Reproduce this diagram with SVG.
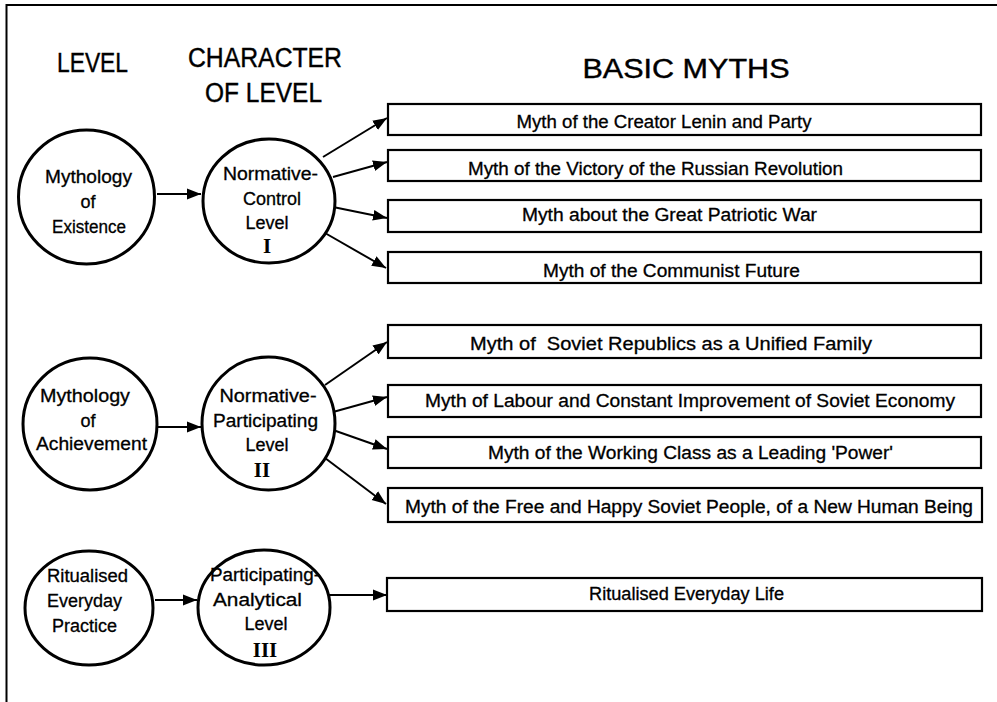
<svg xmlns="http://www.w3.org/2000/svg" width="997" height="702" viewBox="0 0 997 702">
  <defs>
    <marker id="arrow" markerUnits="userSpaceOnUse" markerWidth="16" markerHeight="12" refX="14" refY="6" orient="auto">
      <path d="M0,0.6 L14,6 L0,11.4 Z" fill="#000"/>
    </marker>
    <style>
      .frame { stroke: #000; stroke-width: 2; fill: none; }
      .lvl { fill: #fff; stroke: #000; stroke-width: 3; }
      .box { fill: #fff; stroke: #000; stroke-width: 2.2; }
      .hdr { font-family: "Liberation Sans", Arial, sans-serif; font-size: 27px; fill: #000; stroke: #000; stroke-width: 0.4; text-anchor: middle; }
      .ct { font-family: "Liberation Sans", Arial, sans-serif; font-size: 18px; fill: #000; stroke: #000; stroke-width: 0.3; text-anchor: middle; }
      .bt { font-family: "Liberation Sans", Arial, sans-serif; font-size: 18px; fill: #000; stroke: #000; stroke-width: 0.3; text-anchor: middle; }
      .rn { font-family: "Liberation Serif", "Times New Roman", serif; font-size: 21px; font-weight: bold; fill: #000; text-anchor: middle; }
      .conn line { stroke: #000; stroke-width: 2; marker-end: url(#arrow); }
    </style>
  </defs>
  <rect width="997" height="702" fill="#fff"/>

  <!-- page frame -->
  <line class="frame" x1="6" y1="5" x2="997" y2="5"/>
  <line class="frame" x1="6.5" y1="4" x2="6.5" y2="702"/>

  <!-- column headings -->
  <g id="headings">
    <text class="hdr" x="92.5" y="72" textLength="71" lengthAdjust="spacingAndGlyphs">LEVEL</text>
    <text class="hdr" x="265" y="67" textLength="154" lengthAdjust="spacingAndGlyphs">CHARACTER</text>
    <text class="hdr" x="263.5" y="102" textLength="117" lengthAdjust="spacingAndGlyphs">OF LEVEL</text>
    <text class="hdr" x="686" y="78" textLength="207" lengthAdjust="spacingAndGlyphs">BASIC MYTHS</text>
  </g>

  <!-- connectors -->
  <g id="connectors" class="conn">
    <line x1="157" y1="194" x2="201" y2="194"/>
    <line x1="158" y1="427" x2="201" y2="427"/>
    <line x1="155" y1="600" x2="197" y2="600"/>

    <line x1="323" y1="157" x2="387" y2="118"/>
    <line x1="333" y1="177" x2="387" y2="162"/>
    <line x1="333" y1="207" x2="387" y2="218"/>
    <line x1="325" y1="233" x2="386" y2="268"/>

    <line x1="325" y1="385" x2="387" y2="342"/>
    <line x1="333" y1="412" x2="387" y2="397"/>
    <line x1="333" y1="430" x2="387" y2="449"/>
    <line x1="325" y1="458" x2="386" y2="504"/>

    <line x1="329" y1="595" x2="387" y2="595"/>
  </g>

  <!-- level nodes -->
  <g id="existence">
    <ellipse class="lvl" cx="86.5" cy="197" rx="68" ry="67"/>
    <text class="ct" x="88.5" y="183" textLength="87" lengthAdjust="spacingAndGlyphs">Mythology</text>
    <text class="ct" x="88" y="208">of</text>
    <text class="ct" x="89" y="233" textLength="74" lengthAdjust="spacingAndGlyphs">Existence</text>
  </g>
  <g id="normative-control">
    <ellipse class="lvl" cx="269" cy="201" rx="66" ry="62"/>
    <text class="ct" x="270.5" y="180" textLength="95" lengthAdjust="spacingAndGlyphs">Normative-</text>
    <text class="ct" x="272" y="205">Control</text>
    <text class="ct" x="267" y="229">Level</text>
    <text class="rn" x="267" y="253">I</text>
  </g>

  <g id="achievement">
    <ellipse class="lvl" cx="90" cy="424" rx="67" ry="66"/>
    <text class="ct" x="85" y="402" textLength="90" lengthAdjust="spacingAndGlyphs">Mythology</text>
    <text class="ct" x="88" y="427">of</text>
    <text class="ct" x="91.5" y="450" textLength="111" lengthAdjust="spacingAndGlyphs">Achievement</text>
  </g>
  <g id="normative-participating">
    <ellipse class="lvl" cx="268.5" cy="423.5" rx="66.5" ry="66.5"/>
    <text class="ct" x="268" y="402" textLength="97" lengthAdjust="spacingAndGlyphs">Normative-</text>
    <text class="ct" x="265.5" y="427" textLength="105" lengthAdjust="spacingAndGlyphs">Participating</text>
    <text class="ct" x="267" y="451">Level</text>
    <text class="rn" x="262" y="477">II</text>
  </g>

  <g id="everyday-practice">
    <ellipse class="lvl" cx="89" cy="608" rx="64" ry="57"/>
    <text class="ct" x="87.5" y="582" textLength="81" lengthAdjust="spacingAndGlyphs">Ritualised</text>
    <text class="ct" x="84.5" y="607" textLength="75" lengthAdjust="spacingAndGlyphs">Everyday</text>
    <text class="ct" x="84.5" y="632" textLength="65" lengthAdjust="spacingAndGlyphs">Practice</text>
  </g>
  <g id="participating-analytical">
    <ellipse class="lvl" cx="264" cy="607.5" rx="66" ry="57.5"/>
    <text class="ct" x="265" y="581" textLength="110" lengthAdjust="spacingAndGlyphs">Participating-</text>
    <text class="ct" x="257.5" y="606" textLength="89" lengthAdjust="spacingAndGlyphs">Analytical</text>
    <text class="ct" x="266" y="630">Level</text>
    <text class="rn" x="265" y="657">III</text>
  </g>

  <!-- myth boxes -->
  <g id="myth-creator">
    <rect class="box" x="388" y="104" width="593" height="31"/>
    <text class="bt" x="664" y="128" textLength="295" lengthAdjust="spacingAndGlyphs">Myth of the Creator Lenin and Party</text>
  </g>
  <g id="myth-revolution">
    <rect class="box" x="388" y="150" width="593" height="31"/>
    <text class="bt" x="655.5" y="175" textLength="375" lengthAdjust="spacingAndGlyphs">Myth of the Victory of the Russian Revolution</text>
  </g>
  <g id="myth-war">
    <rect class="box" x="388" y="200" width="593" height="32"/>
    <text class="bt" x="669.5" y="221" textLength="295" lengthAdjust="spacingAndGlyphs">Myth about the Great Patriotic War</text>
  </g>
  <g id="myth-future">
    <rect class="box" x="388" y="252" width="593" height="31"/>
    <text class="bt" x="671.5" y="277" textLength="257" lengthAdjust="spacingAndGlyphs">Myth of the Communist Future</text>
  </g>

  <g id="myth-family">
    <rect class="box" x="388" y="325" width="593" height="33"/>
    <text class="bt" x="671" y="350" textLength="402" lengthAdjust="spacingAndGlyphs" xml:space="preserve">Myth of  Soviet Republics as a Unified Family</text>
  </g>
  <g id="myth-labour">
    <rect class="box" x="388" y="385" width="593" height="32"/>
    <text class="bt" x="690" y="407" textLength="530" lengthAdjust="spacingAndGlyphs">Myth of Labour and Constant Improvement of Soviet Economy</text>
  </g>
  <g id="myth-working-class">
    <rect class="box" x="388" y="437" width="593" height="31"/>
    <text class="bt" x="690.5" y="459" textLength="405" lengthAdjust="spacingAndGlyphs">Myth of the Working Class as a Leading 'Power'</text>
  </g>
  <g id="myth-new-human">
    <rect class="box" x="388" y="488" width="594" height="34"/>
    <text class="bt" x="689" y="513" textLength="568" lengthAdjust="spacingAndGlyphs">Myth of the Free and Happy Soviet People, of a New Human Being</text>
  </g>

  <g id="everyday-life">
    <rect class="box" x="387" y="578" width="595" height="33"/>
    <text class="bt" x="686.5" y="600" textLength="195" lengthAdjust="spacingAndGlyphs">Ritualised Everyday Life</text>
  </g>
</svg>
